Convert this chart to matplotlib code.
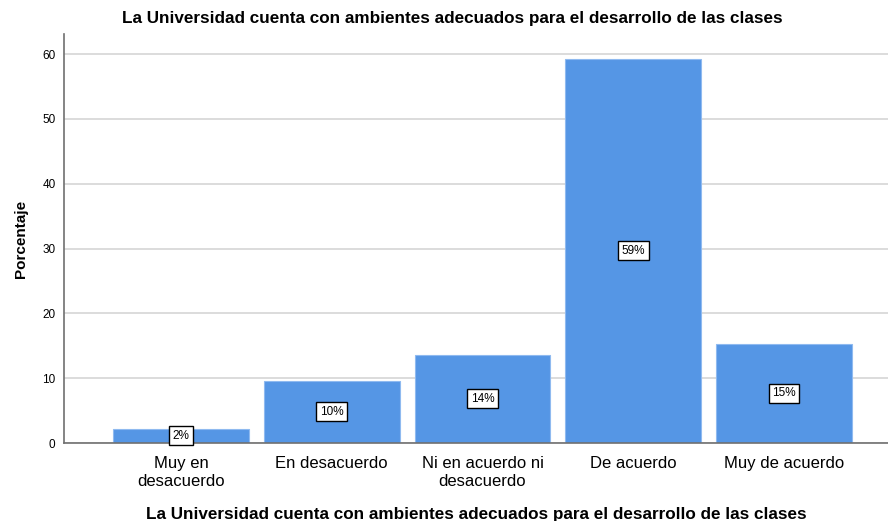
import matplotlib.pyplot as plt
import numpy as np

plt.rcParams['font.family'] = ['Liberation Sans', 'DejaVu Sans']

# respuestas (porcentaje)
categorias = ['Muy en\ndesacuerdo', 'En desacuerdo', 'Ni en acuerdo ni\ndesacuerdo',
              'De acuerdo', 'Muy de acuerdo']
porcentajes = [2.2, 9.6, 13.6, 59.3, 15.3]
titulo = 'La Universidad cuenta con ambientes adecuados para el desarrollo de las clases'

fig = plt.figure(figsize=(8.88, 5.21), dpi=100)
ax = fig.add_axes([0.072, 0.1497, 0.928, 0.785])

x = np.arange(len(categorias))
bars = ax.bar(x, porcentajes, width=0.9, color='#5596e5', edgecolor='#8fbaf0',
              linewidth=0.8, zorder=2)

for b, v in zip(bars, porcentajes):
    ax.text(b.get_x() + b.get_width() / 2, v / 2, f'{v:.0f}%', ha='center', va='center',
            fontsize=8.5, zorder=3,
            bbox=dict(boxstyle='square,pad=0.3', facecolor='white', edgecolor='black',
                      linewidth=1.0))

ax.set_xlim(-0.776, 4.69)
ax.set_ylim(0, 63.1)
ax.set_yticks(range(0, 61, 10))
ax.set_xticks(x)
ax.set_xticklabels(categorias, fontsize=12, linespacing=1.2)
ax.tick_params(axis='x', length=0, pad=9.5)
ax.tick_params(axis='y', length=0, labelsize=8.5, pad=6)
ax.yaxis.grid(True, color='#d6d6d6', linewidth=1.2, zorder=0)
ax.set_axisbelow(True)

for s in ['top', 'right']:
    ax.spines[s].set_visible(False)
ax.spines['left'].set_color('#707070')
ax.spines['bottom'].set_color('#707070')
ax.spines['left'].set_linewidth(1.2)
ax.spines['bottom'].set_linewidth(1.2)

ax.set_ylabel('Porcentaje', fontsize=11, fontweight='bold', labelpad=10)
ax.set_xlabel(titulo, fontsize=12.3, fontweight='bold', labelpad=13)
fig.text(0.509, 0.965, titulo, ha='center', va='center', fontsize=12.3, fontweight='bold')

fig.savefig('out.png', dpi=100, facecolor='white')
